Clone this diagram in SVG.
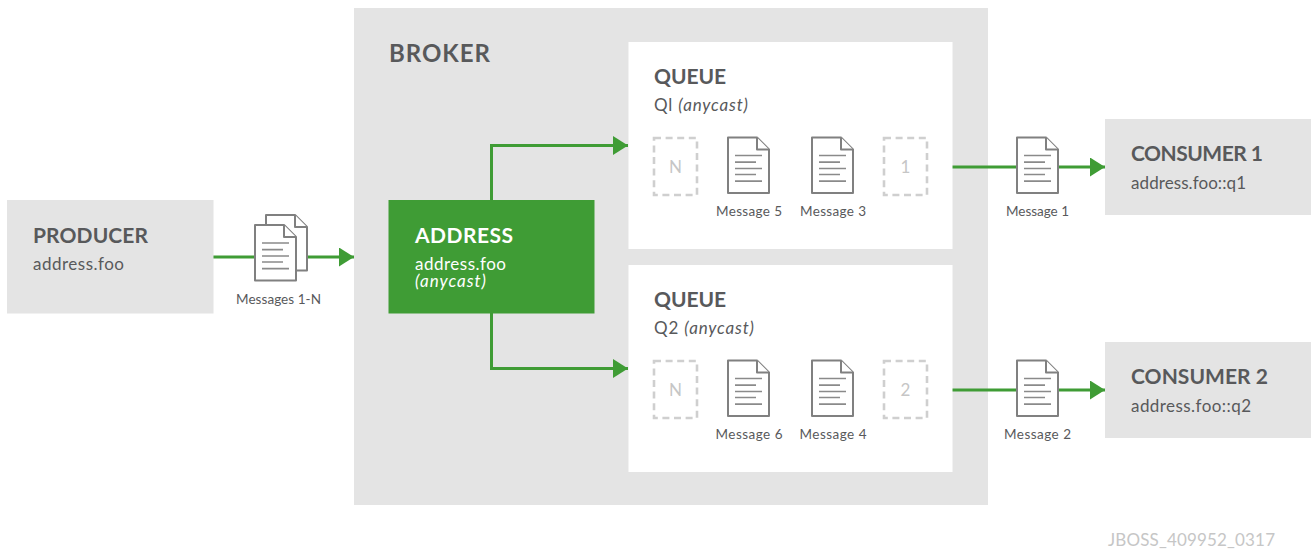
<svg xmlns="http://www.w3.org/2000/svg" xmlns:xlink="http://www.w3.org/1999/xlink" width="1311" height="551" viewBox="0 0 1311 551">
<style>
text{font-family:Lato,"Liberation Sans",sans-serif;fill:#58595b}
.t{font-size:21px;font-weight:700;fill:#58595b}
.s{font-size:17px}
.m{font-size:13.500px;text-anchor:middle}
.i{font-style:italic}
.w{fill:#fff}
.n{font-size:17px;fill:#c6c6c6;text-anchor:middle}
.box{fill:#e4e4e4}
.dash{fill:#fff;stroke:#cfcfcf;stroke-width:2.6;stroke-dasharray:7 4.6}
.line{fill:none;stroke:#3f9c35;stroke-width:3}
.doc{fill:#fff;stroke:#808080;stroke-width:2;stroke-linejoin:round}
.rule{stroke:#8a8a8a;stroke-width:1.700;fill:none}
</style>
<defs>
<marker id="arrow" markerUnits="userSpaceOnUse" markerWidth="16" markerHeight="20" refX="15" refY="9.5" orient="auto"><path d="M0 0L15 9.500L0 19Z" fill="#3f9c35"/></marker>
<g id="sheet"><path class="doc" d="M0 0H29L41 12V55.500H0Z"/><path class="doc" d="M29 0V12H41"/></g>
<g id="doc"><use xlink:href="#sheet" href="#sheet"/><path class="rule" d="M7 18H34M7 24.700H28M7 31H34M7 37H28M7 43.700H34"/></g>
</defs>
<rect id="broker-bg" class="box" x="354" y="8" width="634" height="497"/>
<g id="connectors">
<path class="line" d="M213 257H354" marker-end="url(#arrow)"/>
<path class="line" d="M491.500 200V145.500H628" marker-end="url(#arrow)"/>
<path class="line" d="M491.500 313V368.500H628" marker-end="url(#arrow)"/>
<path class="line" d="M952 167H1105" marker-end="url(#arrow)"/>
<path class="line" d="M952 390H1105" marker-end="url(#arrow)"/>
</g>
<g id="producer"><rect class="box" x="7" y="200" width="206.500" height="113.500"/><text class="t" x="33" y="242.500" textLength="115">PRODUCER</text><text class="s" x="33" y="269.500" textLength="91">address.foo</text></g>
<g id="messages-1-n"><use xlink:href="#sheet" href="#sheet" x="266" y="215"/><use xlink:href="#doc" href="#doc" x="255" y="225"/><text class="m" x="278.500" y="304" textLength="85">Messages 1-N</text></g>
<g id="broker"><text class="t" x="389" y="62" textLength="101" style="font-size:24px">BROKER</text></g>
<g id="address"><rect fill="#3f9c35" x="388.500" y="200" width="206" height="113.500"/><text class="t w" x="415" y="242.500" textLength="98">ADDRESS</text><text class="s w" x="415" y="269.500" textLength="91">address.foo</text><text class="s w i" x="415" y="286.500" textLength="71">(anycast)</text></g>
<g id="queue-1"><rect class="w" x="628.500" y="42" width="324" height="207"/><text class="t" x="654" y="83.500" textLength="72">QUEUE</text><text class="s" x="654" y="110.500" textLength="94">Ql <tspan class="i">(anycast)</tspan></text>
<rect class="dash" x="654" y="138" width="43" height="57"/><text class="n" x="675.500" y="173">N</text>
<use xlink:href="#doc" href="#doc" x="728" y="137.500"/><text class="m" x="749" y="216" textLength="66">Message 5</text>
<use xlink:href="#doc" href="#doc" x="812" y="137.500"/><text class="m" x="833" y="216" textLength="66">Message 3</text>
<rect class="dash" x="884" y="138" width="43" height="57"/><text class="n" x="905.500" y="173">1</text></g>
<g id="queue-2"><rect class="w" x="628.500" y="265" width="324" height="207"/><text class="t" x="654" y="306.500" textLength="72">QUEUE</text><text class="s" x="654" y="333.500" textLength="100">Q2 <tspan class="i">(anycast)</tspan></text>
<rect class="dash" x="654" y="361" width="43" height="57"/><text class="n" x="675.500" y="396">N</text>
<use xlink:href="#doc" href="#doc" x="728" y="360.500"/><text class="m" x="749" y="439" textLength="67">Message 6</text>
<use xlink:href="#doc" href="#doc" x="812" y="360.500"/><text class="m" x="833" y="439" textLength="67">Message 4</text>
<rect class="dash" x="884" y="361" width="43" height="57"/><text class="n" x="905.500" y="396">2</text></g>
<g id="message-1"><use xlink:href="#doc" href="#doc" x="1017" y="137.500"/><text class="m" x="1037.500" y="216" textLength="63">Message 1</text></g>
<g id="message-2"><use xlink:href="#doc" href="#doc" x="1017" y="360.500"/><text class="m" x="1037.500" y="439" textLength="67">Message 2</text></g>
<g id="consumer-1"><rect class="box" x="1105" y="119" width="206" height="96"/><text class="t" x="1131" y="160.500" textLength="132">CONSUMER 1</text><text class="s" x="1131" y="188.500" textLength="115">address.foo::q1</text></g>
<g id="consumer-2"><rect class="box" x="1105" y="342" width="206" height="96"/><text class="t" x="1131" y="383.500" textLength="137">CONSUMER 2</text><text class="s" x="1131" y="411.500" textLength="120">address.foo::q2</text></g>
<text x="1108" y="546" font-size="17" style="fill:#c6c6c6" textLength="167">JBOSS_409952_0317</text>
</svg>
